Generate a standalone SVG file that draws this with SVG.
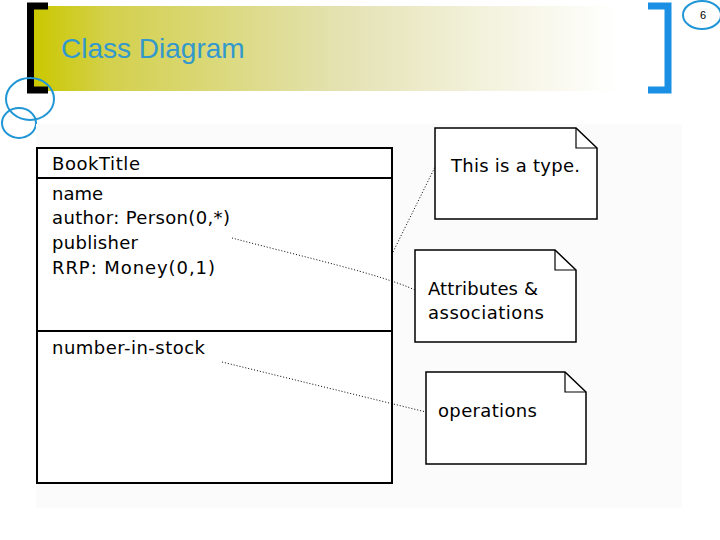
<svg xmlns="http://www.w3.org/2000/svg" width="720" height="540" viewBox="0 0 720 540">
  <defs>
    <linearGradient id="band" x1="0" y1="0" x2="1" y2="0">
      <stop offset="0" stop-color="#cbc800"/>
      <stop offset="0.12" stop-color="#d3d04c"/>
      <stop offset="0.5" stop-color="#e4e2b2"/>
      <stop offset="0.75" stop-color="#f4f3e0"/>
      <stop offset="0.95" stop-color="#ffffff"/>
    </linearGradient>
  </defs>
  <style>
    .ring { fill: none; stroke: #2196d6; stroke-width: 2; }
    .box { fill: #ffffff; stroke: #000000; stroke-width: 2; }
    .note { fill: #ffffff; stroke: #000000; stroke-width: 1.5; stroke-linejoin: miter; }
    .fold { fill: none; stroke: #000000; stroke-width: 1.2; }
    .t { font-family: "DejaVu Sans", "Liberation Sans", sans-serif; font-size: 18px; fill: #000000; }
    .dot { fill: none; stroke: #000000; stroke-width: 1; stroke-dasharray: 1 2; }
  </style>
  <rect width="720" height="540" fill="#ffffff"/>

  <g id="header">
    <rect x="34" y="6" width="616" height="85" fill="url(#band)"/>
    <path d="M48,6 H30.5 V90 H48" fill="none" stroke="#000000" stroke-width="7"/>
    <path d="M648,6 H668 V90 H648" fill="none" stroke="#1a8fe3" stroke-width="7"/>
    <ellipse class="ring" cx="30" cy="99" rx="24" ry="21"/>
    <ellipse class="ring" cx="19" cy="123" rx="17" ry="15"/>
    <ellipse class="ring" cx="702" cy="15" rx="19" ry="14"/>
    <text x="703" y="19" font-family="Liberation Sans, sans-serif" font-size="11" text-anchor="middle" fill="#000000">6</text>
    <text x="61" y="58" font-family="Liberation Sans, Arial, sans-serif" font-size="28" fill="#3399cc">Class Diagram</text>
  </g>

  <rect x="36" y="124" width="646" height="384" fill="#fbfbfb"/>

  <g id="BookTitle">
    <rect class="box" x="37" y="148" width="355" height="335"/>
    <line x1="37" y1="178" x2="392" y2="178" stroke="#000" stroke-width="2"/>
    <line x1="37" y1="331" x2="392" y2="331" stroke="#000" stroke-width="2"/>
    <text class="t" x="52" y="170" textLength="88" lengthAdjust="spacing">BookTitle</text>
    <text class="t" x="52" y="200" textLength="51" lengthAdjust="spacing">name</text>
    <text class="t" x="52" y="224" textLength="178" lengthAdjust="spacing">author: Person(0,*)</text>
    <text class="t" x="52" y="249" textLength="86" lengthAdjust="spacing">publisher</text>
    <text class="t" x="52" y="274" textLength="163" lengthAdjust="spacing">RRP: Money(0,1)</text>
    <text class="t" x="52" y="354" textLength="153" lengthAdjust="spacing">number-in-stock</text>
  </g>

  <g id="note-type">
    <path class="note" d="M435,128 H576 L597,148 V219 H435 Z"/>
    <path class="fold" d="M576,128 V148 H597"/>
    <text class="t" x="451" y="172" textLength="129" lengthAdjust="spacing">This is a type.</text>
  </g>

  <g id="note-attributes">
    <path class="note" d="M415,250 H555 L576,270 V342 H415 Z"/>
    <path class="fold" d="M555,250 V270 H576"/>
    <text class="t" x="428" y="295" textLength="110" lengthAdjust="spacing">Attributes &amp;</text>
    <text class="t" x="428" y="319" textLength="116" lengthAdjust="spacing">associations</text>
  </g>

  <g id="note-operations">
    <path class="note" d="M426,372 H565 L586,392 V464 H426 Z"/>
    <path class="fold" d="M565,372 V392 H586"/>
    <text class="t" x="438" y="417" textLength="99" lengthAdjust="spacing">operations</text>
  </g>

  <g id="connectors">
    <path class="dot" d="M393,252 L435,167"/>
    <path class="dot" d="M232,238 C300,256 380,274 415,290"/>
    <path class="dot" d="M222,362 L426,412"/>
  </g>
</svg>
